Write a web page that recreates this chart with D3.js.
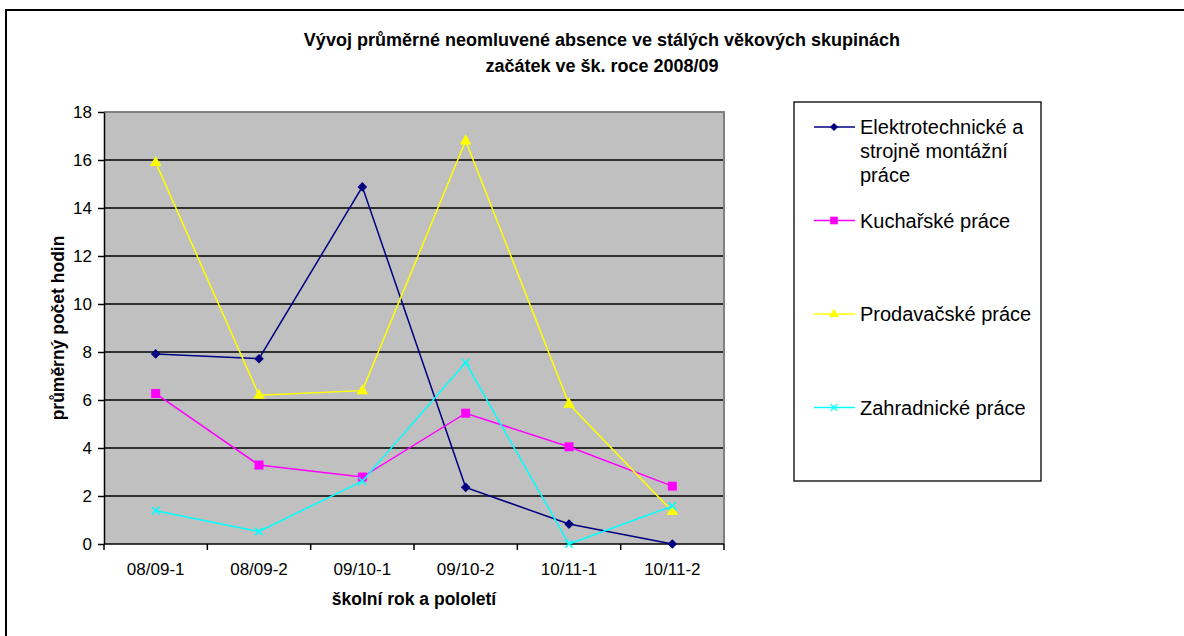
<!DOCTYPE html>
<html>
<head>
<meta charset="utf-8">
<script src="https://cdn.jsdelivr.net/npm/d3@7"></script>
<style>
  body { margin: 0; background: #fff; }
  text { font-family: "Liberation Sans", Arial, sans-serif; }
</style>
</head>
<body>
<script>
// chart data
var categories = ["08/09-1", "08/09-2", "09/10-1", "09/10-2", "10/11-1", "10/11-2"];
var elektro = [7.92, 7.72, 14.88, 2.36, 0.83, 0.0];
var kuchar = [6.27, 3.29, 2.79, 5.45, 4.05, 2.41];
var prodavac = [15.9, 6.2, 6.39, 16.8, 5.83, 1.36];
var zahrad = [1.39, 0.52, 2.62, 7.56, 0.0, 1.58];
var yTicks = [0, 2, 4, 6, 8, 10, 12, 14, 16, 18];
var seriesNames = [["Elektrotechnické a", "strojně montážní", "práce"], ["Kuchařské práce"], ["Prodavačské práce"], ["Zahradnické práce"]];

var width = 1184;
var height = 636;
var margin = {top: 112, left: 104, right: 460, bottom: 92};

var svg = d3.select("body")
  .append("svg")
  .attr("width", width)
  .attr("height", height);

// outer chart frame (runs off the right and bottom of the window)
svg.append("rect")
  .attr("x", 6).attr("y", 10)
  .attr("width", 1200).attr("height", 700)
  .attr("fill", "none")
  .attr("stroke", "#000")
  .attr("stroke-width", 2);

var xScale = d3.scaleBand()
  .domain(categories)
  .range([margin.left, width - margin.right]);

var yScale = d3.scaleLinear()
  .domain([0, 18])
  .range([height - margin.bottom, margin.top]);

// gray plot area
svg.append("rect")
  .attr("x", margin.left)
  .attr("y", margin.top)
  .attr("width", width - margin.right - margin.left)
  .attr("height", height - margin.bottom - margin.top)
  .attr("fill", "#c0c0c0");

// gridlines
svg.append("g")
  .selectAll("line")
  .data(yTicks.slice(1))
  .enter().append("line")
  .attr("x1", margin.left)
  .attr("x2", width - margin.right)
  .attr("y1", function(d) { return yScale(d); })
  .attr("y2", function(d) { return yScale(d); })
  .attr("stroke", function(d) { return d == 18 ? "#808080" : "#000"; })
  .attr("stroke-width", function(d) { return d == 18 ? 2 : 1.3; });

// right border of plot area
svg.append("line")
  .attr("x1", width - margin.right).attr("x2", width - margin.right)
  .attr("y1", margin.top - 1).attr("y2", height - margin.bottom)
  .attr("stroke", "#808080")
  .attr("stroke-width", 2);

// y axis
var yAxis = svg.append("g")
  .attr("transform", `translate(${margin.left},0)`)
  .call(d3.axisLeft(yScale).tickValues(yTicks).tickSize(6).tickPadding(6).tickSizeOuter(0));
yAxis.selectAll("path, line").attr("stroke", "#000").attr("stroke-width", 1.5);
yAxis.selectAll("text")
  .attr("font-size", "17px")
  .attr("fill", "#000")
  .style("font-family", "'Liberation Sans', Arial, sans-serif");

// x axis: labels at band centres, ticks at band edges
var xAxis = svg.append("g")
  .attr("transform", `translate(0,${height - margin.bottom})`)
  .call(d3.axisBottom(xScale).tickSize(0).tickPadding(19));
xAxis.select(".domain").remove();
xAxis.selectAll("text")
  .attr("font-size", "17px")
  .attr("fill", "#000")
  .style("font-family", "'Liberation Sans', Arial, sans-serif");

var edges = categories.map(function(c) { return xScale(c); }).concat([xScale.range()[1]]);
svg.append("g")
  .selectAll("line")
  .data(edges)
  .enter().append("line")
  .attr("x1", function(d) { return d; })
  .attr("x2", function(d) { return d; })
  .attr("y1", height - margin.bottom)
  .attr("y2", height - margin.bottom + 6)
  .attr("stroke", "#000")
  .attr("stroke-width", 1.5);

svg.append("line")
  .attr("x1", margin.left).attr("x2", width - margin.right)
  .attr("y1", height - margin.bottom).attr("y2", height - margin.bottom)
  .attr("stroke", "#000")
  .attr("stroke-width", 1.5);

// titles
var title = svg.append("text")
  .attr("x", 602)
  .attr("y", 46)
  .attr("font-size", "18px")
  .attr("font-weight", "bold")
  .style("text-anchor", "middle");
title.append("tspan").attr("x", 602).text("Vývoj průměrné neomluvené absence ve stálých věkových skupinách");
title.append("tspan").attr("x", 602).attr("dy", 26).text("začátek ve šk. roce 2008/09");

svg.append("text") // x axis label
  .attr("x", (margin.left + width - margin.right) / 2)
  .attr("y", 605)
  .attr("font-size", "17.5px")
  .attr("font-weight", "bold")
  .style("text-anchor", "middle")
  .text("školní rok a pololetí");

svg.append("text") // y axis label
  .attr("transform", "rotate(-90)")
  .attr("x", -(margin.top + height - margin.bottom) / 2)
  .attr("y", 64)
  .attr("font-size", "17.5px")
  .attr("font-weight", "bold")
  .style("text-anchor", "middle")
  .text("průměrný počet hodin");

// marker shapes
function drawMarker(g, kind, color) {
  if (kind == "diamond") {
    g.append("path").attr("d", "M0,-4.8L4.8,0L0,4.8L-4.8,0Z").attr("fill", color);
  } else if (kind == "square") {
    g.append("rect").attr("x", -4.5).attr("y", -4.5).attr("width", 9).attr("height", 9).attr("fill", color);
  } else if (kind == "triangle") {
    g.append("path").attr("d", "M0,-6.5L5.8,3.6L-5.8,3.6Z").attr("fill", color);
  } else {
    g.append("path").attr("d", "M-3.8,-3.8L3.8,3.8M-3.8,3.8L3.8,-3.8")
      .attr("stroke", color).attr("stroke-width", 1.5).attr("fill", "none");
  }
}

var series = [
  {values: elektro, color: "#000080", marker: "diamond"},
  {values: kuchar, color: "#ff00ff", marker: "square"},
  {values: prodavac, color: "#ffff00", marker: "triangle"},
  {values: zahrad, color: "#00ffff", marker: "cross"}
];

var line = d3.line()
  .x(function(d, i) { return xScale(categories[i]) + xScale.bandwidth() / 2; })
  .y(function(d) { return yScale(d); });

series.forEach(function(s) {
  svg.append("path")
    .datum(s.values)
    .attr("d", line)
    .attr("fill", "none")
    .attr("stroke", s.color)
    .attr("stroke-width", 1.5);
  s.values.forEach(function(v, i) {
    var g = svg.append("g")
      .attr("transform", `translate(${xScale(categories[i]) + xScale.bandwidth() / 2},${yScale(v)})`);
    drawMarker(g, s.marker, s.color);
  });
});

// legend
svg.append("rect")
  .attr("x", 794).attr("y", 102)
  .attr("width", 247).attr("height", 379)
  .attr("fill", "#fff")
  .attr("stroke", "#000")
  .attr("stroke-width", 1.3);

series.forEach(function(s, i) {
  var ly = 127 + i * 93.5;
  var g = svg.append("g").attr("transform", `translate(0,${ly})`);
  g.append("line")
    .attr("x1", 814).attr("x2", 855)
    .attr("y1", 0).attr("y2", 0)
    .attr("stroke", s.color)
    .attr("stroke-width", 1.5);
  var m = g.append("g").attr("transform", "translate(834,0) scale(0.85)");
  drawMarker(m, s.marker, s.color);
  var t = g.append("text")
    .attr("x", 860)
    .attr("y", 7)
    .attr("font-size", "20px");
  seriesNames[i].forEach(function(name, k) {
    t.append("tspan").attr("x", 860).attr("dy", k == 0 ? 0 : 24).text(name);
  });
});
</script>
</body>
</html>
